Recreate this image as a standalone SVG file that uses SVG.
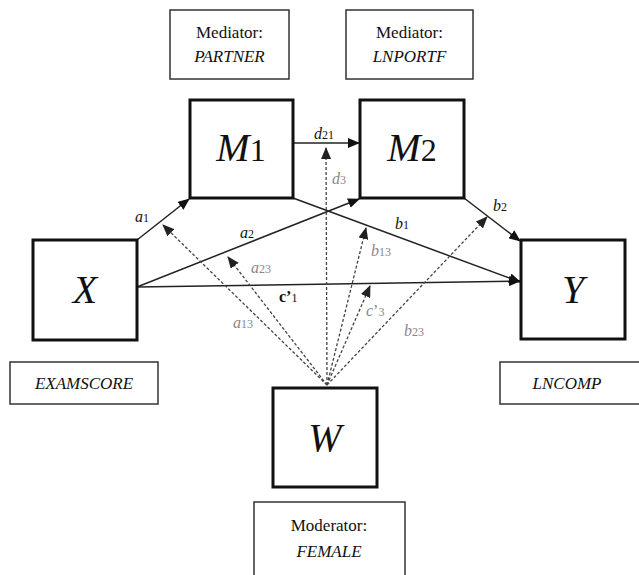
<svg xmlns="http://www.w3.org/2000/svg" width="639" height="575" viewBox="0 0 639 575">
<defs>
<marker id="ah" markerWidth="12" markerHeight="10" refX="11" refY="5" orient="auto" markerUnits="userSpaceOnUse">
<path d="M0,0 L12,5 L0,10 Z" fill="#111"/>
</marker>
<marker id="ahg" markerWidth="12" markerHeight="10" refX="11" refY="5" orient="auto" markerUnits="userSpaceOnUse">
<path d="M0,0 L12,5 L0,10 Z" fill="#222"/>
</marker>
<style>
.node{fill:#fff;stroke:#111;stroke-width:3}
.lbox{fill:#fff;stroke:#333;stroke-width:1.5}
.t{font-family:"Liberation Serif","Times New Roman",serif;fill:#111}
.big{font-size:40px;font-style:italic}
.sub{font-style:normal}
.lt{font-size:17px}
.it{font-style:italic}
.sol{stroke:#222;stroke-width:1.5;fill:none;marker-end:url(#ah)}
.das{stroke:#444;stroke-width:1.3;stroke-dasharray:3,2;fill:none;marker-end:url(#ahg)}
.pl{font-family:"Liberation Serif","Times New Roman",serif;font-size:16px;fill:#111}
.gl{font-family:"Liberation Serif","Times New Roman",serif;font-size:16px;fill:#888}
</style>
</defs>
<rect width="639" height="575" fill="#fff"/>

<g id="connectors">
<line class="sol" x1="137" y1="240" x2="189" y2="199"/>
<line class="sol" x1="137" y1="287" x2="359" y2="199"/>
<line class="sol" x1="137" y1="287" x2="520" y2="281"/>
<line class="sol" x1="293" y1="198" x2="520" y2="282"/>
<line class="sol" x1="464" y1="198" x2="520" y2="241"/>
<line class="sol" x1="293" y1="143" x2="359" y2="143"/>
<line class="das" x1="327" y1="385" x2="326" y2="148"/>
<line class="das" x1="327" y1="385" x2="163" y2="225"/>
<line class="das" x1="327" y1="385" x2="228" y2="257"/>
<line class="das" x1="327" y1="385" x2="366" y2="228"/>
<line class="das" x1="327" y1="385" x2="370" y2="286"/>
<line class="das" x1="327" y1="385" x2="487" y2="217"/>
<text class="pl" x="135" y="222"><tspan font-style="italic">a</tspan><tspan font-size="12">1</tspan></text>
<text class="pl" x="240" y="238"><tspan font-style="italic">a</tspan><tspan font-size="12">2</tspan></text>
<text class="pl" x="279" y="302" font-weight="bold">c’<tspan font-size="12" font-weight="normal">1</tspan></text>
<text class="pl" x="395" y="229"><tspan font-style="italic">b</tspan><tspan font-size="12">1</tspan></text>
<text class="pl" x="493" y="211"><tspan font-style="italic">b</tspan><tspan font-size="12">2</tspan></text>
<text class="pl" x="314" y="139"><tspan font-style="italic">d</tspan><tspan font-size="12">21</tspan></text>
<text class="gl" x="332" y="184"><tspan font-style="italic">d</tspan><tspan font-size="12">3</tspan></text>
<text class="gl" x="233" y="328"><tspan font-style="italic">a</tspan><tspan font-size="12">13</tspan></text>
<text class="gl" x="251" y="273"><tspan font-style="italic">a</tspan><tspan font-size="12">23</tspan></text>
<text class="gl" x="371" y="256"><tspan font-style="italic">b</tspan><tspan font-size="12">13</tspan></text>
<text class="gl" x="366" y="316"><tspan font-style="italic">c</tspan>’<tspan font-size="12">3</tspan></text>
<text class="gl" x="404" y="336"><tspan font-style="italic">b</tspan><tspan font-size="12">23</tspan></text>
</g>

<g id="mediator1-label">
<rect class="lbox" x="170" y="10" width="119" height="69"/>
<text class="t lt" x="229.5" y="38" text-anchor="middle">Mediator:</text>
<text class="t lt it" x="229.5" y="62" text-anchor="middle">PARTNER</text>
</g>
<g id="mediator2-label">
<rect class="lbox" x="346" y="10" width="127" height="69"/>
<text class="t lt" x="409.5" y="38" text-anchor="middle">Mediator:</text>
<text class="t lt it" x="409.5" y="62" text-anchor="middle">LNPORTF</text>
</g>
<g id="M1">
<rect class="node" x="190" y="100" width="103" height="98"/>
<text class="t big" x="241" y="161" text-anchor="middle">M<tspan class="sub" font-size="32">1</tspan></text>
</g>
<g id="M2">
<rect class="node" x="360" y="100" width="104" height="98"/>
<text class="t big" x="412" y="161" text-anchor="middle">M<tspan class="sub" font-size="32">2</tspan></text>
</g>
<g id="X">
<rect class="node" x="33" y="240" width="104" height="100"/>
<text class="t big" x="85" y="303" text-anchor="middle">X</text>
</g>
<g id="Y">
<rect class="node" x="521" y="240" width="104" height="99"/>
<text class="t big" x="573" y="303" text-anchor="middle">Y</text>
</g>
<g id="W">
<rect class="node" x="273" y="388" width="104" height="99"/>
<text class="t big" x="325" y="451" text-anchor="middle">W</text>
</g>
<g id="X-label">
<rect class="lbox" x="10" y="362" width="148" height="42"/>
<text class="t lt it" x="84" y="389" text-anchor="middle">EXAMSCORE</text>
</g>
<g id="Y-label">
<rect class="lbox" x="500" y="362" width="150" height="42"/>
<text class="t lt it" x="567" y="389" text-anchor="middle">LNCOMP</text>
</g>
<g id="W-label">
<rect class="lbox" x="254" y="502" width="151" height="85"/>
<text class="t lt" x="329" y="531" text-anchor="middle">Moderator:</text>
<text class="t lt it" x="329" y="557" text-anchor="middle">FEMALE</text>
</g>
</svg>
